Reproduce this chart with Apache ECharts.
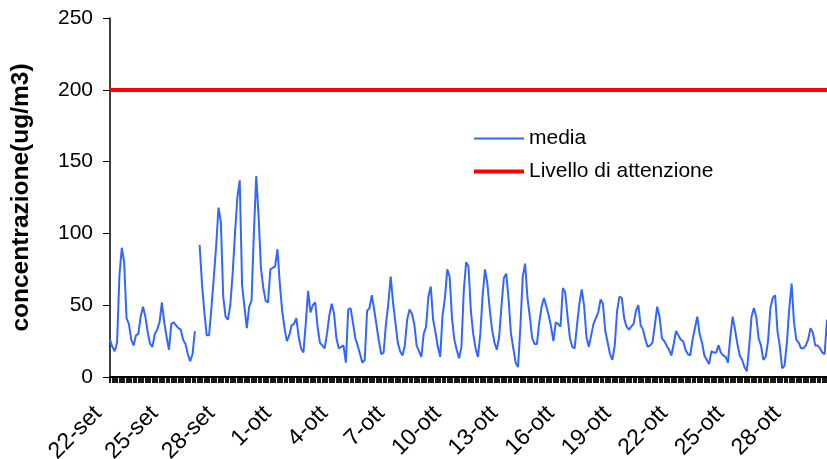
<!DOCTYPE html>
<html>
<head>
<meta charset="utf-8">
<script src="https://cdn.jsdelivr.net/npm/echarts@6/dist/echarts.min.js"></script>
<style>
html,body{margin:0;padding:0;background:#fff;}
#chart{width:827px;height:459px;}
</style>
</head>
<body>
<div id="chart"></div>
<script>
// Day labels (22-set ... 30-ott)
const dayLabels = ['22-set','23-set','24-set','25-set','26-set','27-set','28-set','29-set','30-set',
  '1-ott','2-ott','3-ott','4-ott','5-ott','6-ott','7-ott','8-ott','9-ott','10-ott','11-ott','12-ott',
  '13-ott','14-ott','15-ott','16-ott','17-ott','18-ott','19-ott','20-ott','21-ott','22-ott','23-ott',
  '24-ott','25-ott','26-ott','27-ott','28-ott','29-ott','30-ott'];
// Sampling hours within each day
const hours = ['0','3','6','9','12','15','18','21'];

// "media" concentration, one row per day (every 3 hours)
const media = [
  26,21,18,24,71,90,80,41,
  37,26,22,29,30,42,49,42,
  31,23,21,30,33,38,52,38,
  28,19,37,38,36,34,33,26,
  23,16,11,16,32,null,92,65,
  45,29,29,48,69,91,118,108,
  56,42,40,50,72,100,125,137,
  64,49,34,49,53,100,140,112,
  76,62,53,52,75,76,77,89,
  65,46,34,25,29,36,37,41,
  28,20,17,37,60,45,50,52,
  35,24,22,20,30,43,51,44,
  27,20,21,22,10,47,48,38,
  27,22,16,10,12,46,48,57,
  47,36,25,16,17,37,51,70,
  52,38,24,18,15,22,40,47,
  44,37,22,18,14,30,35,56,
  63,40,31,21,14,43,55,75,
  70,41,26,19,13,21,60,80,
  77,46,30,20,14,30,57,75,
  65,47,33,24,19,28,50,69,
  72,54,30,20,10,7,35,70,
  79,55,42,27,23,23,38,49,
  55,49,43,35,25,38,37,35,
  62,59,42,27,21,20,36,51,
  61,50,28,21,29,37,41,45,
  54,51,32,24,16,12,22,46,
  56,55,41,35,33,35,37,46,
  50,36,33,26,21,22,24,36,
  49,42,27,25,22,19,15,23,
  32,29,26,25,19,16,15,26,
  34,42,30,24,15,12,9,18,
  17,17,22,17,15,14,10,28,
  42,33,23,15,12,7,4,21,
  42,48,42,27,22,12,14,25,
  48,55,57,32,21,6,8,24,
  48,65,38,26,24,20,20,22,
  26,34,31,22,22,20,17,16,
  40
];
// Threshold
const livelloAttenzione = 200;
const yTicks = [0, 50, 100, 150, 200, 250];

// Build categories "day hour"
const categories = [];
for (let d = 0; d < dayLabels.length - 1; d++) {
  for (const h of hours) categories.push(dayLabels[d] + ' ' + h);
}
categories.push(dayLabels[dayLabels.length - 1] + ' 0');

const FONT = '"Liberation Sans", Arial, sans-serif';
const legendText = {fontFamily: FONT, fontSize: 21, color: '#000'};
const chart = echarts.init(document.getElementById('chart'), null, {renderer: 'canvas'});
chart.setOption({
  animation: false,
  backgroundColor: '#ffffff',
  grid: {left: 110, right: 0, top: 18, bottom: 82, containLabel: false, outerBoundsMode: 'none'},
  legend: [
    {
      left: 474, top: 128, padding: 0,
      icon: 'rect', itemWidth: 50, itemHeight: 2,
      textStyle: legendText,
      data: ['media']
    },
    {
      left: 474, top: 161, padding: 0,
      icon: 'rect', itemWidth: 50, itemHeight: 4,
      textStyle: legendText,
      data: ['Livello di attenzione']
    }
  ],
  xAxis: {
    type: 'category',
    data: categories,
    boundaryGap: false,
    axisLine: {lineStyle: {color: '#000', width: 2}},
    axisTick: {show: true, interval: 0, length: 6, lineStyle: {color: '#000', width: 1.8}},
    axisLabel: {
      interval: function (i) { return i % 24 === 0; },
      formatter: function (v) { return v.split(' ')[0]; },
      rotate: 45,
      margin: 21,
      padding: [0, 17, 0, 0],
      fontFamily: FONT,
      fontSize: 23,
      color: '#000'
    },
    splitLine: {show: false}
  },
  yAxis: {
    type: 'value',
    min: yTicks[0],
    max: yTicks[yTicks.length - 1],
    interval: 50,
    name: 'concentrazione(ug/m3)',
    nameLocation: 'middle',
    nameRotate: 90,
    nameGap: 76,
    nameTextStyle: {fontFamily: FONT, fontSize: 24.5, fontWeight: 'bold', color: '#000'},
    axisLine: {show: true, lineStyle: {color: '#000', width: 1.5}},
    axisTick: {show: true, length: 7, lineStyle: {color: '#000', width: 1}},
    axisLabel: {margin: 17, fontFamily: FONT, fontSize: 21, color: '#000'},
    splitLine: {show: false}
  },
  series: [
    {
      name: 'media',
      type: 'line',
      data: media,
      showSymbol: false,
      symbol: 'none',
      connectNulls: false,
      lineStyle: {color: '#3366FF', width: 2},
      itemStyle: {color: '#3366FF'},
      z: 3
    },
    {
      name: 'Livello di attenzione',
      type: 'line',
      data: [],
      symbol: 'none',
      lineStyle: {color: '#FF0000', width: 4},
      itemStyle: {color: '#FF0000'},
      markLine: {
        silent: true,
        symbol: 'none',
        label: {show: false},
        lineStyle: {color: '#FF0000', width: 4, type: 'solid'},
        data: [{yAxis: livelloAttenzione}]
      },
      z: 2
    }
  ]
});
</script>
</body>
</html>
